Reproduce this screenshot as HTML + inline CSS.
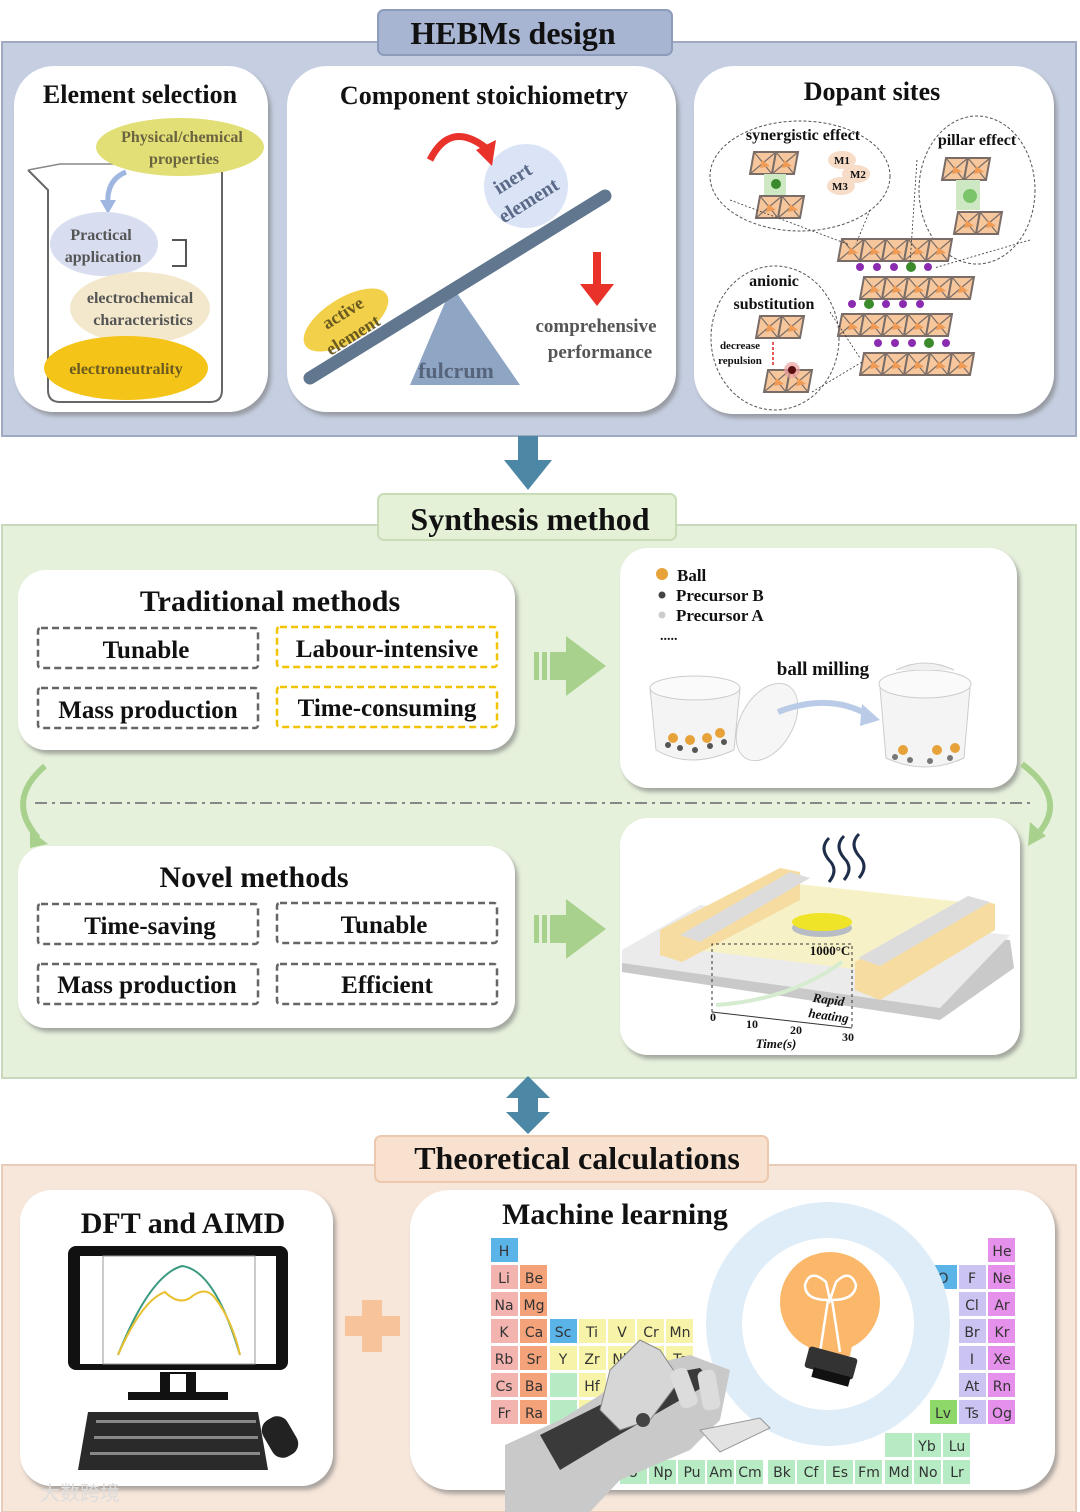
<!DOCTYPE html>
<html><head><meta charset="utf-8"><style>
html,body{margin:0;padding:0;background:#fff}
svg{display:block}
.t{font-family:"Liberation Serif",serif;font-weight:bold;fill:#111}
.p{font-family:"DejaVu Sans","Liberation Sans",sans-serif;font-size:14px;fill:#333}
</style></head><body>
<svg width="1080" height="1512" viewBox="0 0 1080 1512" xmlns="http://www.w3.org/2000/svg">
<defs>
<g id="oct">
<polygon points="0,0 22,0 18,22 -4,22" fill="#f6c79c" stroke="#7a6d68" stroke-width="2"/>
<line x1="0" y1="0" x2="18" y2="22" stroke="#7a6d68" stroke-width="1.2"/>
<line x1="22" y1="0" x2="-4" y2="22" stroke="#7a6d68" stroke-width="1.2"/>
<polygon points="8,8 16,14 6,16" fill="#ef9b55"/>
</g>
<g id="chain5"><use href="#oct" x="0"/><use href="#oct" x="22"/><use href="#oct" x="44"/><use href="#oct" x="66"/><use href="#oct" x="88"/></g>
<g id="chain2"><use href="#oct" x="0"/><use href="#oct" x="22"/></g>
<filter id="sh" x="-5%" y="-5%" width="115%" height="115%"><feDropShadow dx="3" dy="4" stdDeviation="2" flood-color="#777" flood-opacity="0.6"/></filter>
</defs>

<!-- PANEL 1 -->
<rect x="2" y="42" width="1074" height="394" fill="#c6cfe2" stroke="#9fa9c2" stroke-width="2"/>
<rect x="378" y="10" width="294" height="45" rx="6" fill="#a7b5d3" stroke="#8e9cbc" stroke-width="2"/>
<text x="513" y="44" class="t" font-size="32" text-anchor="middle">HEBMs design</text>

<rect x="14" y="66" width="254" height="346" rx="40" fill="#fff" filter="url(#sh)"/>
<rect x="287" y="66" width="389" height="346" rx="40" fill="#fff" filter="url(#sh)"/>
<rect x="694" y="66" width="360" height="348" rx="40" fill="#fff" filter="url(#sh)"/>

<!-- box1 -->
<text x="140" y="103" class="t" font-size="26" text-anchor="middle">Element selection</text>
<path d="M28,170 Q40,182 48,190 L48,390 Q48,402 60,402 L210,402 Q222,402 222,390 L222,160 Q228,150 236,146" fill="none" stroke="#666" stroke-width="2"/>
<path d="M28,170 L60,164 L222,164" fill="none" stroke="#888" stroke-width="1.5"/>
<path d="M172,240 L186,240 L186,266 L172,266" fill="none" stroke="#555" stroke-width="2"/>
<ellipse cx="180" cy="147" rx="84" ry="29" fill="#e2df77"/>
<text x="182" y="142" class="t" font-size="16" text-anchor="middle" style="fill:#6b6440">Physical/chemical</text>
<text x="184" y="164" class="t" font-size="16" text-anchor="middle" style="fill:#6b6440">properties</text>
<path d="M126,172 Q106,180 108,205" fill="none" stroke="#9fb6e0" stroke-width="5"/>
<polygon points="100,200 116,200 108,214" fill="#9fb6e0"/>
<ellipse cx="104" cy="244" rx="54" ry="32" fill="#d8ddf0"/>
<text x="101" y="240" class="t" font-size="16" text-anchor="middle" style="fill:#555">Practical</text>
<text x="103" y="262" class="t" font-size="16" text-anchor="middle" style="fill:#555">application</text>
<ellipse cx="140" cy="308" rx="70" ry="36" fill="#f3e8cc"/>
<text x="140" y="303" class="t" font-size="16" text-anchor="middle" style="fill:#555">electrochemical</text>
<text x="143" y="325" class="t" font-size="16" text-anchor="middle" style="fill:#555">characteristics</text>
<ellipse cx="126" cy="368" rx="82" ry="32" fill="#f5c419"/>
<text x="126" y="374" class="t" font-size="16" text-anchor="middle" style="fill:#6a5a20">electroneutrality</text>

<!-- box2 -->
<text x="484" y="104" class="t" font-size="26" text-anchor="middle">Component stoichiometry</text>
<polygon points="410,385 452,286 520,385" fill="#8fa5c4"/>
<text x="456" y="378" class="t" font-size="22" text-anchor="middle" style="fill:#56657c">fulcrum</text>
<line x1="310" y1="378" x2="605" y2="196" stroke="#60778f" stroke-width="13" stroke-linecap="round"/>
<ellipse cx="346" cy="320" rx="48" ry="22" fill="#f2d04a" transform="rotate(-32 346 320)"/>
<text x="346" y="318" class="t" font-size="18" text-anchor="middle" transform="rotate(-32 346 318)" style="fill:#6a5a20">active</text>
<text x="356" y="340" class="t" font-size="18" text-anchor="middle" transform="rotate(-32 356 340)" style="fill:#6a5a20">element</text>
<circle cx="526" cy="186" r="42" fill="#dbe4f6"/>
<text x="516" y="184" class="t" font-size="20" text-anchor="middle" transform="rotate(-32 516 184)" style="fill:#5a6a88">inert</text>
<text x="532" y="206" class="t" font-size="20" text-anchor="middle" transform="rotate(-32 532 206)" style="fill:#5a6a88">element</text>
<path d="M430,160 Q450,120 486,148" fill="none" stroke="#e8322a" stroke-width="7"/>
<polygon points="476,150 496,140 492,166" fill="#e8322a"/>
<rect x="593" y="252" width="8" height="36" fill="#e8322a"/>
<polygon points="580,284 614,284 597,306" fill="#e8322a"/>
<text x="596" y="332" class="t" font-size="19" text-anchor="middle" style="fill:#555">comprehensive</text>
<text x="600" y="358" class="t" font-size="19" text-anchor="middle" style="fill:#555">performance</text>

<!-- box3 -->
<text x="872" y="100" class="t" font-size="26" text-anchor="middle">Dopant sites</text>
<ellipse cx="800" cy="176" rx="90" ry="55" fill="none" stroke="#555" stroke-width="1" stroke-dasharray="3,2"/>
<ellipse cx="977" cy="190" rx="58" ry="74" fill="none" stroke="#555" stroke-width="1" stroke-dasharray="3,2"/>
<ellipse cx="775" cy="338" rx="64" ry="72" fill="none" stroke="#555" stroke-width="1" stroke-dasharray="3,2"/>
<text x="803" y="140" class="t" font-size="16" text-anchor="middle">synergistic effect</text>
<text x="977" y="145" class="t" font-size="16" text-anchor="middle">pillar effect</text>
<text x="774" y="286" class="t" font-size="16" text-anchor="middle">anionic</text>
<text x="774" y="309" class="t" font-size="16" text-anchor="middle">substitution</text>
<use href="#chain2" x="754" y="152"/><rect x="764" y="174" width="22" height="22" fill="#cfe8c4"/><circle cx="776" cy="184" r="5" fill="#3b8a2c"/><use href="#chain2" x="760" y="196"/>
<ellipse cx="842" cy="160" rx="14" ry="9" fill="#f7dcc8"/><ellipse cx="856" cy="174" rx="14" ry="9" fill="#f7dcc8"/><ellipse cx="841" cy="186" rx="14" ry="9" fill="#f7dcc8"/>
<text x="842" y="164" class="t" font-size="11" text-anchor="middle">M1</text><text x="858" y="178" class="t" font-size="11" text-anchor="middle">M2</text><text x="840" y="190" class="t" font-size="11" text-anchor="middle">M3</text>
<use href="#chain2" x="946" y="158"/><rect x="956" y="180" width="24" height="30" fill="#cfe8c4"/><circle cx="970" cy="196" r="7" fill="#7cc46a"/><use href="#chain2" x="958" y="212"/>
<use href="#chain2" x="760" y="316"/><use href="#chain2" x="768" y="370"/><circle cx="792" cy="370" r="8" fill="#e9a0a0" opacity="0.7"/><circle cx="792" cy="370" r="4" fill="#5a0e0e"/>
<line x1="773" y1="342" x2="773" y2="366" stroke="#d22" stroke-width="1.5" stroke-dasharray="3,2"/>
<text x="740" y="349" class="t" font-size="11" text-anchor="middle">decrease</text><text x="740" y="364" class="t" font-size="11" text-anchor="middle">repulsion</text>
<use href="#chain5" x="842" y="239"/>
<use href="#chain5" x="864" y="277"/>
<use href="#chain5" x="842" y="314"/>
<use href="#chain5" x="864" y="353"/>
<g fill="#8b2bb0"><circle cx="860" cy="267" r="4"/><circle cx="877" cy="267" r="4"/><circle cx="894" cy="267" r="4"/><circle cx="928" cy="267" r="4"/>
<circle cx="852" cy="304" r="4"/><circle cx="886" cy="304" r="4"/><circle cx="903" cy="304" r="4"/><circle cx="920" cy="304" r="4"/>
<circle cx="878" cy="343" r="4"/><circle cx="895" cy="343" r="4"/><circle cx="912" cy="343" r="4"/><circle cx="946" cy="343" r="4"/></g>
<g fill="#3b8a2c"><circle cx="911" cy="267" r="5"/><circle cx="869" cy="304" r="5"/><circle cx="929" cy="343" r="5"/></g>
<g stroke="#333" stroke-width="0.8" stroke-dasharray="2,2" fill="none"><path d="M730,200 L850,245"/><path d="M870,210 L856,244"/><path d="M917,160 L910,264"/><path d="M1030,240 L934,268"/><path d="M830,312 L860,358"/><path d="M812,392 L862,362"/></g>

<!-- arrow 1 -->
<rect x="518" y="436" width="20" height="26" fill="#4c87a6"/>
<polygon points="504,460 552,460 528,490" fill="#4c87a6"/>

<!-- PANEL 2 -->
<rect x="2" y="525" width="1074" height="553" fill="#e6f1dc" stroke="#c8d8bc" stroke-width="2"/>
<rect x="378" y="494" width="298" height="46" rx="6" fill="#e4f1d7" stroke="#c9dcb8" stroke-width="2"/>
<text x="530" y="530" class="t" font-size="32" text-anchor="middle">Synthesis method</text>

<rect x="18" y="570" width="497" height="180" rx="28" fill="#fff" filter="url(#sh)"/>
<text x="270" y="611" class="t" font-size="30" text-anchor="middle">Traditional methods</text>
<g fill="none" stroke-width="2.5" stroke-dasharray="7,4">
<rect x="38" y="628" width="220" height="40" rx="3" stroke="#666"/>
<rect x="277" y="627" width="220" height="40" rx="3" stroke="#f2c300"/>
<rect x="38" y="688" width="220" height="40" rx="3" stroke="#666"/>
<rect x="277" y="687" width="220" height="40" rx="3" stroke="#f2c300"/>
</g>
<text x="146" y="658" class="t" font-size="25" text-anchor="middle">Tunable</text>
<text x="387" y="657" class="t" font-size="25" text-anchor="middle">Labour-intensive</text>
<text x="148" y="718" class="t" font-size="25" text-anchor="middle">Mass production</text>
<text x="387" y="716" class="t" font-size="25" text-anchor="middle">Time-consuming</text>

<g fill="#a9d18e"><rect x="534" y="652" width="5" height="28"/><rect x="542" y="652" width="5" height="28"/><rect x="550" y="652" width="18" height="28"/><polygon points="566,636 606,666 566,696"/></g>

<rect x="620" y="548" width="397" height="240" rx="28" fill="#fff" filter="url(#sh)"/>
<circle cx="662" cy="574" r="6" fill="#e8a23a"/><circle cx="662" cy="595" r="3.5" fill="#444"/><circle cx="662" cy="615" r="3.5" fill="#ccc"/>
<text x="677" y="581" class="t" font-size="17">Ball</text>
<text x="676" y="601" class="t" font-size="17">Precursor B</text>
<text x="676" y="621" class="t" font-size="17">Precursor A</text>
<text x="660" y="640" class="t" font-size="14">.....</text>
<text x="823" y="675" class="t" font-size="19" text-anchor="middle">ball milling</text>
<path d="M650,688 Q690,674 740,688 L734,750 Q690,770 656,750 Z" fill="#f4f4f4" stroke="#ccc"/>
<ellipse cx="695" cy="688" rx="45" ry="12" fill="#fafafa" stroke="#ccc"/>
<g fill="#555"><circle cx="668" cy="745" r="3"/><circle cx="680" cy="748" r="3"/><circle cx="695" cy="750" r="3"/><circle cx="710" cy="746" r="3"/><circle cx="724" cy="742" r="3"/></g>
<g fill="#e8a23a"><circle cx="673" cy="738" r="5"/><circle cx="690" cy="740" r="5"/><circle cx="707" cy="738" r="5"/><circle cx="720" cy="733" r="5"/></g>
<ellipse cx="767" cy="722" rx="26" ry="42" fill="#f6f6f6" stroke="#ccc" transform="rotate(30 767 722)"/>
<path d="M778,712 Q830,692 870,716" fill="none" stroke="#b9cbe6" stroke-width="6"/>
<polygon points="862,704 880,720 860,726" fill="#b9cbe6"/>
<path d="M880,688 L970,688 L964,758 Q925,776 886,758 Z" fill="#f4f4f4" stroke="#ccc"/>
<ellipse cx="925" cy="684" rx="46" ry="14" fill="#fafafa" stroke="#ccc"/>
<path d="M896,670 Q925,656 954,670" fill="#f0f0f0" stroke="#ccc"/>
<g fill="#777"><circle cx="895" cy="757" r="3"/><circle cx="910" cy="760" r="3"/><circle cx="930" cy="761" r="3"/><circle cx="950" cy="758" r="3"/></g>
<g fill="#e8a23a"><circle cx="903" cy="750" r="5"/><circle cx="937" cy="750" r="5"/><circle cx="955" cy="748" r="5"/></g>

<path d="M45,766 Q5,800 38,838" fill="none" stroke="#a9d18e" stroke-width="6"/>
<polygon points="30,830 48,844 30,848" fill="#a9d18e"/>
<path d="M1022,764 Q1070,800 1036,836" fill="none" stroke="#a9d18e" stroke-width="6"/>
<polygon points="1030,822 1046,836 1028,846" fill="#a9d18e"/>
<line x1="35" y1="803" x2="1035" y2="803" stroke="#888" stroke-width="2" stroke-dasharray="12,5,3,5"/>

<rect x="18" y="846" width="497" height="182" rx="28" fill="#fff" filter="url(#sh)"/>
<text x="254" y="887" class="t" font-size="30" text-anchor="middle">Novel methods</text>
<g fill="none" stroke="#666" stroke-width="2.5" stroke-dasharray="7,4">
<rect x="38" y="904" width="220" height="40" rx="3"/><rect x="277" y="903" width="220" height="40" rx="3"/>
<rect x="38" y="964" width="220" height="40" rx="3"/><rect x="277" y="964" width="220" height="40" rx="3"/>
</g>
<text x="150" y="934" class="t" font-size="25" text-anchor="middle">Time-saving</text>
<text x="384" y="933" class="t" font-size="25" text-anchor="middle">Tunable</text>
<text x="147" y="993" class="t" font-size="25" text-anchor="middle">Mass production</text>
<text x="387" y="993" class="t" font-size="25" text-anchor="middle">Efficient</text>
<g fill="#a9d18e"><rect x="534" y="915" width="5" height="28"/><rect x="542" y="915" width="5" height="28"/><rect x="550" y="915" width="18" height="28"/><polygon points="566,899 606,929 566,959"/></g>

<rect x="620" y="818" width="400" height="237" rx="28" fill="#fff" filter="url(#sh)"/>
<!-- heater -->
<polygon points="622,955 700,910 1010,940 1014,968 940,1020 622,972" fill="#c9c9c9"/>
<polygon points="622,950 700,905 1010,935 940,1008 622,963" fill="#ebebeb"/>
<polygon points="662,946 780,882 990,905 880,972" fill="#f7f1c8"/>
<polygon points="660,930 780,868 800,872 800,900 682,962 660,955" fill="#f6dca0"/>
<polygon points="680,935 790,872 810,878 700,942" fill="#dcdcdc"/>
<polygon points="855,962 970,898 995,904 995,930 880,1000 855,990" fill="#f6dca0"/>
<polygon points="858,958 968,896 990,902 880,966" fill="#dcdcdc"/>
<ellipse cx="822" cy="928" rx="30" ry="9" fill="#b8bcc4"/>
<ellipse cx="822" cy="922" rx="30" ry="9" fill="#efe428"/>
<path d="M829,838 q-10,10 0,22 q10,10 0,22 M844,836 q-10,10 0,22 q10,10 0,22 M859,834 q-10,10 0,22 q10,10 0,22" fill="none" stroke="#1e2e4a" stroke-width="3"/>
<path d="M712,1012 L712,944 L852,944 L852,1028" fill="none" stroke="#333" stroke-dasharray="3,3"/>
<path d="M712,1012 L852,1028" fill="none" stroke="#333"/>
<path d="M716,1005 Q790,1000 842,962" fill="none" stroke="#d6ecd0" stroke-width="4"/>
<text x="830" y="955" class="t" font-size="13" text-anchor="middle">1000°C</text>
<text x="828" y="1004" class="t" font-size="13" text-anchor="middle" font-style="italic" transform="rotate(8 828 1004)">Rapid</text>
<text x="828" y="1020" class="t" font-size="13" text-anchor="middle" font-style="italic" transform="rotate(8 828 1020)">heating</text>
<text x="710" y="1021" class="t" font-size="12">0</text><text x="746" y="1028" class="t" font-size="12">10</text><text x="790" y="1034" class="t" font-size="12">20</text><text x="842" y="1041" class="t" font-size="12">30</text>
<text x="776" y="1048" class="t" font-size="13" text-anchor="middle" font-style="italic">Time(s)</text>

<!-- double arrow -->
<polygon points="506,1098 528,1076 550,1098" fill="#4c87a6"/>
<rect x="518" y="1096" width="20" height="18" fill="#4c87a6"/>
<polygon points="506,1112 550,1112 528,1134" fill="#4c87a6"/>

<!-- PANEL 3 -->
<rect x="2" y="1165" width="1074" height="347" fill="#f7e6da" stroke="#e8cbb8" stroke-width="2"/>
<rect x="375" y="1136" width="393" height="46" rx="6" fill="#f8e1cf" stroke="#ecc9ae" stroke-width="2"/>
<text x="577" y="1169" class="t" font-size="32" text-anchor="middle">Theoretical calculations</text>

<rect x="20" y="1190" width="313" height="296" rx="32" fill="#fff" filter="url(#sh)"/>
<text x="183" y="1233" class="t" font-size="30" text-anchor="middle">DFT and AIMD</text>
<rect x="68" y="1246" width="220" height="124" rx="8" fill="#111"/>
<rect x="80" y="1256" width="196" height="108" fill="#fff"/>
<rect x="103" y="1256" width="152" height="108" fill="none" stroke="#999"/>
<path d="M118,1355 Q150,1275 182,1266 Q215,1270 240,1355" fill="none" stroke="#3a9a80" stroke-width="2"/>
<path d="M118,1355 Q142,1300 165,1292 Q178,1305 190,1298 Q205,1285 215,1298 Q232,1320 240,1355" fill="none" stroke="#e8c030" stroke-width="2"/>
<rect x="160" y="1372" width="36" height="26" fill="#111"/><rect x="170" y="1374" width="16" height="20" fill="#fff"/>
<rect x="128" y="1392" width="100" height="8" fill="#111"/>
<polygon points="88,1412 258,1412 268,1470 78,1470" fill="#2a2a2a"/>
<g fill="#888"><rect x="96" y="1420" width="160" height="3"/><rect x="94" y="1436" width="164" height="3"/><rect x="90" y="1452" width="170" height="3"/></g>
<rect x="266" y="1416" width="28" height="42" rx="12" fill="#222" transform="rotate(-30 280 1437)"/>

<g fill="#f6c39a"><rect x="362" y="1300" width="20" height="52"/><rect x="345" y="1316" width="55" height="20"/></g>

<rect x="410" y="1190" width="645" height="300" rx="40" fill="#fff" filter="url(#sh)"/>
<text x="615" y="1224" class="t" font-size="30" text-anchor="middle">Machine learning</text>
<g class="p">
<g>
<rect x="491" y="1238" width="27" height="24" fill="#5ab4e8"/><text x="504" y="1256" text-anchor="middle" class="p">H</text>
<rect x="988" y="1238" width="27" height="24" fill="#e590ea"/><text x="1002" y="1256" text-anchor="middle" class="p">He</text>
<rect x="491" y="1265" width="27" height="24" fill="#f3b4b0"/><text x="504" y="1283" text-anchor="middle" class="p">Li</text>
<rect x="520" y="1265" width="27" height="24" fill="#f4a27a"/><text x="534" y="1283" text-anchor="middle" class="p">Be</text>
<rect x="491" y="1292" width="27" height="24" fill="#f3b4b0"/><text x="504" y="1310" text-anchor="middle" class="p">Na</text>
<rect x="520" y="1292" width="27" height="24" fill="#f4a27a"/><text x="534" y="1310" text-anchor="middle" class="p">Mg</text>
<rect x="491" y="1319" width="27" height="24" fill="#f3b4b0"/><text x="504" y="1337" text-anchor="middle" class="p">K</text>
<rect x="520" y="1319" width="27" height="24" fill="#f4a27a"/><text x="534" y="1337" text-anchor="middle" class="p">Ca</text>
<rect x="550" y="1319" width="27" height="24" fill="#5ab4e8"/><text x="563" y="1337" text-anchor="middle" class="p">Sc</text>
<rect x="579" y="1319" width="27" height="24" fill="#f7f3a8"/><text x="592" y="1337" text-anchor="middle" class="p">Ti</text>
<rect x="608" y="1319" width="27" height="24" fill="#f7f3a8"/><text x="622" y="1337" text-anchor="middle" class="p">V</text>
<rect x="637" y="1319" width="27" height="24" fill="#f7f3a8"/><text x="651" y="1337" text-anchor="middle" class="p">Cr</text>
<rect x="666" y="1319" width="27" height="24" fill="#f7f3a8"/><text x="680" y="1337" text-anchor="middle" class="p">Mn</text>
<rect x="491" y="1346" width="27" height="24" fill="#f3b4b0"/><text x="504" y="1364" text-anchor="middle" class="p">Rb</text>
<rect x="520" y="1346" width="27" height="24" fill="#f4a27a"/><text x="534" y="1364" text-anchor="middle" class="p">Sr</text>
<rect x="550" y="1346" width="27" height="24" fill="#f7f3a8"/><text x="563" y="1364" text-anchor="middle" class="p">Y</text>
<rect x="579" y="1346" width="27" height="24" fill="#f7f3a8"/><text x="592" y="1364" text-anchor="middle" class="p">Zr</text>
<rect x="608" y="1346" width="27" height="24" fill="#f7f3a8"/><text x="622" y="1364" text-anchor="middle" class="p">Nb</text>
<rect x="637" y="1346" width="27" height="24" fill="#f7f3a8"/><text x="651" y="1364" text-anchor="middle" class="p">Mo</text>
<rect x="666" y="1346" width="27" height="24" fill="#f7f3a8"/><text x="680" y="1364" text-anchor="middle" class="p">Tc</text>
<rect x="491" y="1373" width="27" height="24" fill="#f3b4b0"/><text x="504" y="1391" text-anchor="middle" class="p">Cs</text>
<rect x="520" y="1373" width="27" height="24" fill="#f4a27a"/><text x="534" y="1391" text-anchor="middle" class="p">Ba</text>
<rect x="550" y="1373" width="27" height="24" fill="#b6ebc4"/>
<rect x="579" y="1373" width="27" height="24" fill="#f7f3a8"/><text x="592" y="1391" text-anchor="middle" class="p">Hf</text>
<rect x="491" y="1400" width="27" height="24" fill="#f3b4b0"/><text x="504" y="1418" text-anchor="middle" class="p">Fr</text>
<rect x="520" y="1400" width="27" height="24" fill="#f4a27a"/><text x="534" y="1418" text-anchor="middle" class="p">Ra</text>
<rect x="550" y="1400" width="27" height="24" fill="#b6ebc4"/>
<rect x="579" y="1400" width="27" height="24" fill="#f7f3a8"/><text x="592" y="1418" text-anchor="middle" class="p">Rf</text>
<rect x="930" y="1265" width="27" height="24" fill="#5ab4e8"/><text x="943" y="1283" text-anchor="middle" class="p">O</text>
<rect x="959" y="1265" width="27" height="24" fill="#cbc3f2"/><text x="972" y="1283" text-anchor="middle" class="p">F</text>
<rect x="988" y="1265" width="27" height="24" fill="#e590ea"/><text x="1002" y="1283" text-anchor="middle" class="p">Ne</text>
<rect x="959" y="1292" width="27" height="24" fill="#cbc3f2"/><text x="972" y="1310" text-anchor="middle" class="p">Cl</text>
<rect x="988" y="1292" width="27" height="24" fill="#e590ea"/><text x="1002" y="1310" text-anchor="middle" class="p">Ar</text>
<rect x="959" y="1319" width="27" height="24" fill="#cbc3f2"/><text x="972" y="1337" text-anchor="middle" class="p">Br</text>
<rect x="988" y="1319" width="27" height="24" fill="#e590ea"/><text x="1002" y="1337" text-anchor="middle" class="p">Kr</text>
<rect x="959" y="1346" width="27" height="24" fill="#cbc3f2"/><text x="972" y="1364" text-anchor="middle" class="p">I</text>
<rect x="988" y="1346" width="27" height="24" fill="#e590ea"/><text x="1002" y="1364" text-anchor="middle" class="p">Xe</text>
<rect x="959" y="1373" width="27" height="24" fill="#cbc3f2"/><text x="972" y="1391" text-anchor="middle" class="p">At</text>
<rect x="988" y="1373" width="27" height="24" fill="#e590ea"/><text x="1002" y="1391" text-anchor="middle" class="p">Rn</text>
<rect x="930" y="1400" width="27" height="24" fill="#8ed86a"/><text x="943" y="1418" text-anchor="middle" class="p">Lv</text>
<rect x="959" y="1400" width="27" height="24" fill="#cbc3f2"/><text x="972" y="1418" text-anchor="middle" class="p">Ts</text>
<rect x="988" y="1400" width="27" height="24" fill="#e590ea"/><text x="1002" y="1418" text-anchor="middle" class="p">Og</text>
<rect x="914" y="1433" width="27" height="24" fill="#b6ebc4"/><text x="927" y="1451" text-anchor="middle" class="p">Yb</text>
<rect x="943" y="1433" width="27" height="24" fill="#b6ebc4"/><text x="957" y="1451" text-anchor="middle" class="p">Lu</text>
<rect x="885" y="1433" width="27" height="24" fill="#b6ebc4"/>
<g fill="#b6ebc4"><rect x="620" y="1460" width="27" height="24"/><rect x="649" y="1460" width="27" height="24"/><rect x="678" y="1460" width="27" height="24"/><rect x="707" y="1460" width="27" height="24"/><rect x="736" y="1460" width="27" height="24"/><rect x="768" y="1460" width="27" height="24"/><rect x="797" y="1460" width="27" height="24"/><rect x="826" y="1460" width="27" height="24"/><rect x="855" y="1460" width="27" height="24"/><rect x="885" y="1460" width="27" height="24"/><rect x="914" y="1460" width="27" height="24"/><rect x="943" y="1460" width="27" height="24"/></g>
<text x="633" y="1477" text-anchor="middle" class="p">U</text><text x="663" y="1477" text-anchor="middle" class="p">Np</text><text x="692" y="1477" text-anchor="middle" class="p">Pu</text><text x="721" y="1477" text-anchor="middle" class="p">Am</text><text x="750" y="1477" text-anchor="middle" class="p">Cm</text><text x="782" y="1477" text-anchor="middle" class="p">Bk</text><text x="811" y="1477" text-anchor="middle" class="p">Cf</text><text x="840" y="1477" text-anchor="middle" class="p">Es</text><text x="869" y="1477" text-anchor="middle" class="p">Fm</text><text x="899" y="1477" text-anchor="middle" class="p">Md</text><text x="928" y="1477" text-anchor="middle" class="p">No</text><text x="957" y="1477" text-anchor="middle" class="p">Lr</text>
</g>
</g>
<!-- bulb -->
<circle cx="828" cy="1324" r="122" fill="#dfedf9"/>
<circle cx="828" cy="1324" r="86" fill="#fff"/>
<circle cx="830" cy="1302" r="50" fill="#fbb86b"/>
<path d="M804,1325 L856,1325 L850,1356 L810,1356 Z" fill="#fbb86b"/>
<path d="M820,1352 L828,1300 Q805,1300 805,1285 Q810,1268 826,1282 L830,1300 L836,1282 Q850,1268 856,1285 Q855,1300 832,1300 L840,1352" fill="none" stroke="#fff" stroke-width="2.5"/>
<rect x="806" y="1352" width="50" height="22" rx="3" fill="#333" transform="rotate(15 831 1363)"/>
<rect x="812" y="1372" width="38" height="10" fill="#111" transform="rotate(15 831 1377)"/>
<!-- robot hand -->
<polygon points="505,1445 560,1420 600,1395 630,1370 690,1355 730,1370 720,1420 690,1450 620,1480 590,1512 505,1512" fill="#c9c9c9"/>
<polygon points="540,1435 660,1375 700,1368 712,1382 610,1440 560,1470" fill="#3a3a3a"/>
<polygon points="610,1370 640,1340 660,1350 680,1380 650,1420 620,1430 600,1410" fill="#d6d6d6" stroke="#888"/>
<circle cx="643" cy="1420" r="7" fill="#444"/>
<rect x="675" y="1368" width="18" height="40" rx="6" fill="#dcdcdc" transform="rotate(-20 684 1388)"/>
<rect x="700" y="1370" width="18" height="40" rx="6" fill="#dcdcdc" transform="rotate(-10 709 1390)"/>
<polygon points="700,1430 760,1418 770,1428 720,1452" fill="#e2e2e2" stroke="#999"/>
<text x="80" y="1500" font-family="Liberation Sans,'Noto Sans CJK SC',sans-serif" font-size="20" fill="#ddd" text-anchor="middle">大数跨境</text>
</svg>
</body></html>
